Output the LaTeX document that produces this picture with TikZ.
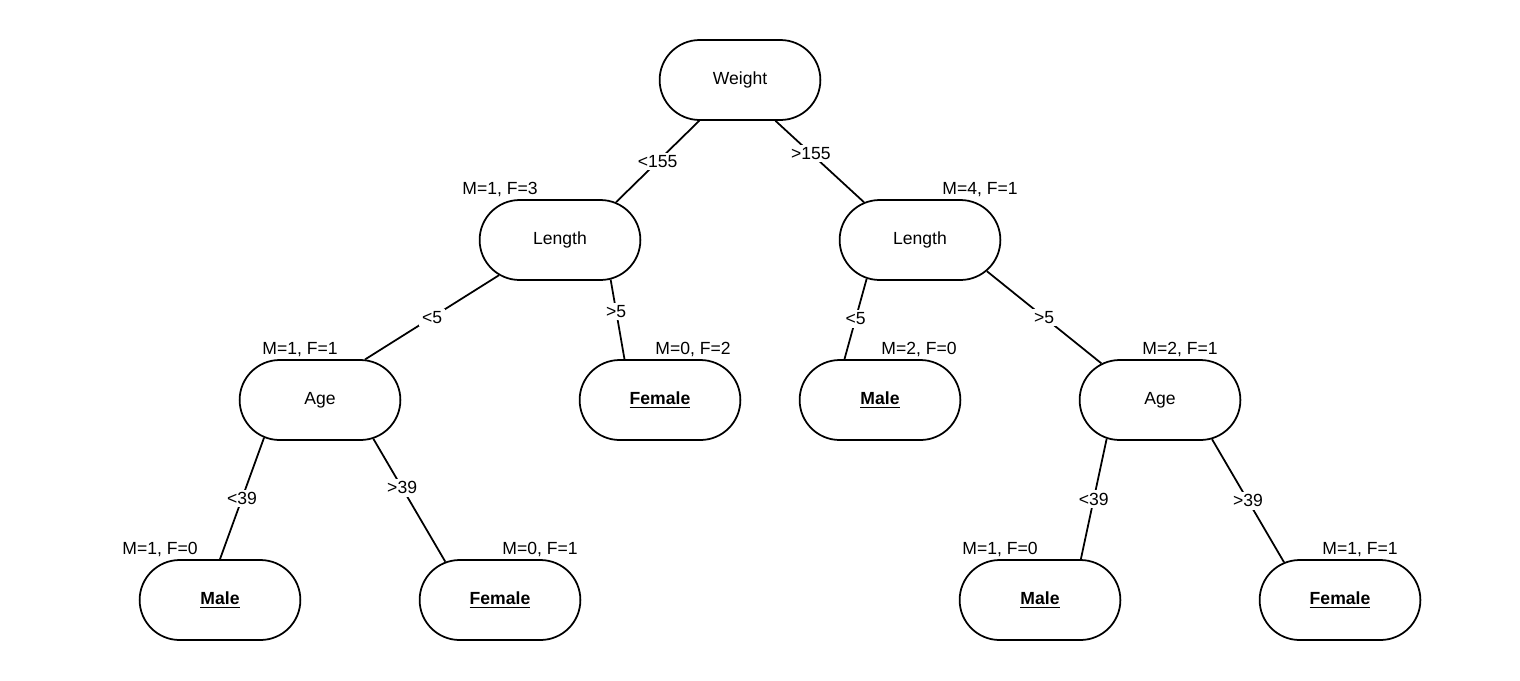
\documentclass[tikz,border=0pt]{standalone}
\usepackage{fontspec}
\setmainfont{Liberation Sans}
\usetikzlibrary{shapes.misc}

\tikzset{
  split/.style={rounded rectangle, draw, line width=1pt, minimum width=3.45cm,
    minimum height=1.6cm, font=\fontsize{10}{12}\selectfont},
  leaf/.style={split, font=\fontsize{10}{12}\selectfont\bfseries},
  cond/.style={fill=white, inner sep=1.5pt, font=\fontsize{10}{12}\selectfont},
  edge/.style={line width=1pt},
  every label/.style={font=\fontsize{10}{12}\selectfont, inner sep=1pt}
}

\begin{document}
\begin{tikzpicture}[x=0.02cm, y=-0.02cm]
        \useasboundingbox (0,0) rectangle (1520,680);

        % decision nodes
        \node[split] (w) at (740,80) {Weight};
        \node[split, label={[xshift=-1.2cm]above:{M=1, F=3}}] (ll) at (560,240) {Length};
        \node[split, label={[xshift=1.2cm]above:{M=4, F=1}}] (lr) at (920,240) {Length};
        \node[split, label={[xshift=-0.4cm]above:{M=1, F=1}}] (al) at (320,400) {Age};
        \node[split, label={[xshift=0.4cm]above:{M=2, F=1}}] (ar) at (1160,400) {Age};

        % leaves
        \node[leaf, label={[xshift=0.66cm]above:{M=0, F=2}}] (f0) at (660,400) {\underline{Female}};
        \node[leaf, label={[xshift=0.78cm]above:{M=2, F=0}}] (m0) at (880,400) {\underline{Male}};
        \node[leaf, label={[xshift=-1.2cm]above:{M=1, F=0}}] (m1) at (220,600) {\underline{Male}};
        \node[leaf, label={[xshift=0.8cm]above:{M=0, F=1}}] (f1) at (500,600) {\underline{Female}};
        \node[leaf, label={[xshift=-0.8cm]above:{M=1, F=0}}] (m2) at (1040,600) {\underline{Male}};
        \node[leaf, label={[xshift=0.4cm]above:{M=1, F=1}}] (f2) at (1340,600) {\underline{Female}};

        % branches
        \draw[edge] (w.-135) -- node[cond] {<155} (ll.34);
        \draw[edge] (w.-49) -- node[cond, pos=0.4] {>155} (lr.146);
        \draw[edge] (ll.-150) -- node[cond] {<5} (al.42);
        \draw[edge] (ll.-38) -- node[cond, pos=0.4] {>5} (f0.131);
        \draw[edge] (lr.-144) -- node[cond] {<5} (m0.131);
        \draw[edge] (lr.-25) -- node[cond] {>5} (ar.148);
        \draw[edge] (al.-146) -- node[cond] {<39} (m1.90);
        \draw[edge] (al.-36) -- node[cond, pos=0.4] {>39} (f1.145);
        \draw[edge] (ar.-144) -- node[cond] {<39} (m2.45);
        \draw[edge] (ar.-37) -- node[cond] {>39} (f2.146);

\end{tikzpicture}
\end{document}
